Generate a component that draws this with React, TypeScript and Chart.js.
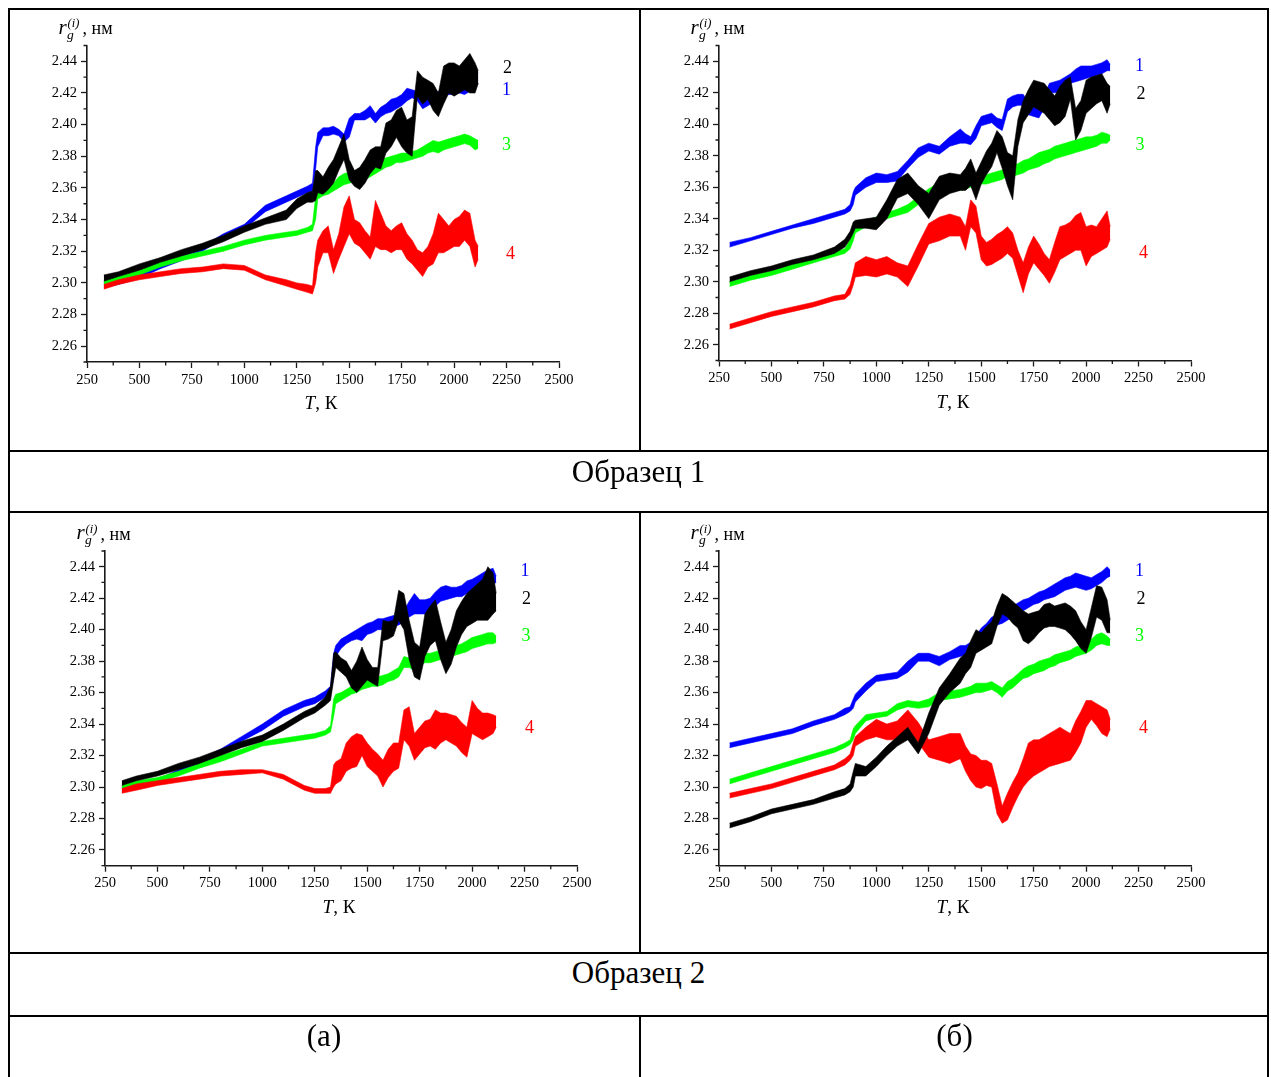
import React, { useEffect, useRef } from "react";
import { Chart, registerables } from "chart.js";

Chart.register(...registerables);

const SERIF = "'Liberation Serif', 'Times New Roman', serif";

// ---------- data: temperature grids (K) ----------
const T_A = [330, 400, 500, 600, 700, 800, 900, 1000, 1100, 1200, 1250, 1300, 1325, 1340, 1350, 1375, 1400, 1425, 1450, 1475, 1500, 1525, 1550, 1575, 1600, 1625, 1650, 1675, 1700, 1725, 1750, 1775, 1800, 1825, 1850, 1875, 1900, 1925, 1950, 1975, 2000, 2025, 2050, 2075, 2100, 2115];
const T_B = [300, 400, 500, 600, 700, 800, 850, 875, 890, 900, 950, 1000, 1050, 1100, 1150, 1200, 1250, 1300, 1350, 1400, 1425, 1450, 1475, 1500, 1525, 1550, 1575, 1600, 1625, 1650, 1675, 1700, 1725, 1750, 1775, 1800, 1825, 1850, 1875, 1900, 1925, 1950, 1975, 2000, 2025, 2050, 2075, 2100, 2115];

// ---------- data: r_g (nm), [low, high] envelope of each noisy curve ----------
// Sample 1 (a)
const S1a_1 = [[2.297,2.300],[2.299,2.302],[2.303,2.306],[2.309,2.312],[2.314,2.317],[2.320,2.323],[2.328,2.331],[2.334,2.337],[2.345,2.349],[2.351,2.355],[2.354,2.358],[2.357,2.361],[2.358,2.363],[2.372,2.386],[2.386,2.395],[2.393,2.398],[2.393,2.398],[2.394,2.399],[2.393,2.397],[2.389,2.394],[2.392,2.404],[2.403,2.407],[2.403,2.407],[2.403,2.409],[2.405,2.412],[2.401,2.407],[2.405,2.411],[2.407,2.413],[2.408,2.416],[2.410,2.417],[2.412,2.419],[2.415,2.423],[2.417,2.422],[2.415,2.421],[2.410,2.415],[2.412,2.418],[2.414,2.420],[2.415,2.421],[2.418,2.424],[2.419,2.425],[2.419,2.425],[2.420,2.424],[2.419,2.423],[2.421,2.428],[2.424,2.434],[2.426,2.433]];
const S1a_2 = [[2.301,2.305],[2.304,2.307],[2.308,2.312],[2.313,2.316],[2.317,2.321],[2.321,2.325],[2.326,2.330],[2.332,2.336],[2.337,2.341],[2.340,2.346],[2.347,2.353],[2.351,2.357],[2.351,2.358],[2.352,2.371],[2.357,2.371],[2.356,2.367],[2.359,2.373],[2.363,2.378],[2.371,2.386],[2.378,2.394],[2.365,2.378],[2.361,2.371],[2.359,2.373],[2.363,2.378],[2.369,2.384],[2.373,2.386],[2.372,2.386],[2.382,2.401],[2.386,2.403],[2.392,2.409],[2.386,2.411],[2.382,2.403],[2.380,2.405],[2.418,2.434],[2.413,2.430],[2.416,2.428],[2.409,2.426],[2.405,2.420],[2.413,2.437],[2.420,2.439],[2.418,2.439],[2.420,2.437],[2.422,2.441],[2.420,2.445],[2.420,2.439],[2.426,2.434]];
const S1a_3 = [[2.298,2.301],[2.301,2.304],[2.305,2.308],[2.310,2.313],[2.314,2.317],[2.317,2.320],[2.320,2.323],[2.324,2.327],[2.327,2.330],[2.329,2.332],[2.330,2.333],[2.332,2.335],[2.333,2.337],[2.340,2.355],[2.353,2.359],[2.355,2.360],[2.356,2.361],[2.358,2.363],[2.360,2.367],[2.362,2.369],[2.363,2.370],[2.364,2.371],[2.365,2.371],[2.365,2.371],[2.367,2.373],[2.369,2.377],[2.371,2.378],[2.373,2.379],[2.374,2.380],[2.376,2.381],[2.376,2.382],[2.377,2.382],[2.378,2.383],[2.379,2.384],[2.380,2.386],[2.382,2.388],[2.383,2.390],[2.382,2.389],[2.384,2.390],[2.385,2.391],[2.386,2.392],[2.387,2.393],[2.388,2.394],[2.387,2.393],[2.384,2.391],[2.385,2.390]];
const S1a_4 = [[2.296,2.299],[2.299,2.302],[2.302,2.305],[2.304,2.307],[2.306,2.309],[2.307,2.310],[2.309,2.312],[2.308,2.311],[2.302,2.305],[2.298,2.302],[2.296,2.300],[2.294,2.299],[2.293,2.298],[2.300,2.319],[2.310,2.327],[2.319,2.333],[2.319,2.336],[2.306,2.321],[2.315,2.331],[2.323,2.348],[2.331,2.355],[2.325,2.340],[2.323,2.338],[2.319,2.333],[2.315,2.329],[2.323,2.352],[2.321,2.344],[2.321,2.336],[2.319,2.333],[2.321,2.336],[2.321,2.338],[2.315,2.331],[2.312,2.327],[2.308,2.321],[2.304,2.319],[2.310,2.323],[2.312,2.331],[2.319,2.344],[2.319,2.340],[2.321,2.336],[2.323,2.340],[2.323,2.342],[2.327,2.346],[2.323,2.344],[2.310,2.327],[2.315,2.323]];
// Sample 1 (b)
const S1b_1 = [[2.322,2.325],[2.326,2.328],[2.330,2.332],[2.334,2.336],[2.337,2.340],[2.341,2.344],[2.343,2.346],[2.345,2.349],[2.349,2.357],[2.355,2.360],[2.360,2.366],[2.363,2.369],[2.363,2.368],[2.364,2.370],[2.372,2.377],[2.379,2.385],[2.383,2.388],[2.381,2.386],[2.386,2.392],[2.388,2.397],[2.388,2.394],[2.387,2.392],[2.391,2.399],[2.399,2.405],[2.400,2.406],[2.401,2.407],[2.398,2.404],[2.396,2.403],[2.408,2.416],[2.411,2.418],[2.412,2.419],[2.412,2.419],[2.406,2.414],[2.405,2.412],[2.404,2.411],[2.410,2.418],[2.420,2.426],[2.420,2.427],[2.421,2.428],[2.424,2.430],[2.426,2.432],[2.427,2.435],[2.428,2.437],[2.429,2.437],[2.430,2.437],[2.431,2.438],[2.432,2.439],[2.434,2.441],[2.434,2.438]];
const S1b_2 = [[2.300,2.303],[2.304,2.307],[2.307,2.310],[2.311,2.314],[2.314,2.317],[2.318,2.322],[2.322,2.327],[2.327,2.332],[2.331,2.338],[2.334,2.339],[2.334,2.340],[2.333,2.341],[2.340,2.352],[2.353,2.365],[2.356,2.369],[2.349,2.361],[2.340,2.356],[2.352,2.367],[2.356,2.369],[2.358,2.368],[2.358,2.372],[2.361,2.378],[2.352,2.369],[2.362,2.376],[2.368,2.383],[2.373,2.388],[2.382,2.396],[2.372,2.392],[2.361,2.382],[2.352,2.380],[2.386,2.403],[2.401,2.415],[2.406,2.422],[2.411,2.428],[2.409,2.427],[2.407,2.426],[2.403,2.422],[2.399,2.418],[2.401,2.424],[2.405,2.428],[2.416,2.430],[2.390,2.410],[2.396,2.415],[2.407,2.428],[2.410,2.430],[2.413,2.431],[2.415,2.432],[2.407,2.426],[2.413,2.424]];
const S1b_3 = [[2.297,2.300],[2.301,2.304],[2.304,2.307],[2.308,2.311],[2.312,2.315],[2.316,2.319],[2.318,2.321],[2.321,2.327],[2.326,2.333],[2.331,2.336],[2.335,2.339],[2.337,2.341],[2.340,2.344],[2.342,2.346],[2.344,2.349],[2.349,2.354],[2.354,2.359],[2.357,2.363],[2.358,2.364],[2.358,2.364],[2.359,2.365],[2.360,2.366],[2.361,2.367],[2.362,2.368],[2.362,2.368],[2.363,2.369],[2.364,2.370],[2.365,2.371],[2.367,2.373],[2.367,2.374],[2.368,2.375],[2.369,2.377],[2.371,2.378],[2.372,2.380],[2.373,2.382],[2.375,2.383],[2.376,2.384],[2.378,2.386],[2.379,2.387],[2.380,2.388],[2.381,2.389],[2.382,2.390],[2.383,2.391],[2.384,2.392],[2.385,2.392],[2.386,2.393],[2.388,2.395],[2.388,2.394],[2.390,2.393]];
const S1b_4 = [[2.270,2.273],[2.274,2.277],[2.278,2.281],[2.281,2.284],[2.284,2.287],[2.288,2.291],[2.289,2.292],[2.292,2.298],[2.298,2.306],[2.303,2.312],[2.304,2.316],[2.303,2.314],[2.305,2.316],[2.303,2.312],[2.297,2.310],[2.310,2.324],[2.324,2.337],[2.326,2.341],[2.329,2.343],[2.329,2.341],[2.320,2.335],[2.335,2.352],[2.331,2.348],[2.314,2.329],[2.310,2.325],[2.311,2.327],[2.313,2.330],[2.315,2.332],[2.318,2.335],[2.315,2.331],[2.304,2.320],[2.293,2.312],[2.305,2.322],[2.312,2.329],[2.308,2.324],[2.304,2.318],[2.299,2.314],[2.306,2.325],[2.314,2.335],[2.316,2.336],[2.318,2.338],[2.320,2.342],[2.320,2.344],[2.310,2.335],[2.316,2.336],[2.318,2.335],[2.320,2.340],[2.322,2.345],[2.327,2.335]];
// Sample 2 (a)
const S2a_1 = [[2.297,2.300],[2.299,2.302],[2.302,2.305],[2.308,2.311],[2.314,2.317],[2.321,2.324],[2.329,2.332],[2.336,2.340],[2.345,2.349],[2.351,2.355],[2.353,2.357],[2.357,2.361],[2.359,2.364],[2.370,2.385],[2.383,2.390],[2.388,2.394],[2.391,2.396],[2.393,2.398],[2.394,2.400],[2.393,2.402],[2.397,2.404],[2.398,2.405],[2.400,2.407],[2.400,2.407],[2.401,2.408],[2.402,2.409],[2.403,2.410],[2.405,2.412],[2.408,2.418],[2.410,2.423],[2.410,2.419],[2.410,2.419],[2.412,2.420],[2.415,2.424],[2.418,2.427],[2.419,2.428],[2.420,2.427],[2.421,2.427],[2.421,2.428],[2.423,2.431],[2.424,2.432],[2.426,2.434],[2.427,2.436],[2.428,2.438],[2.429,2.439],[2.430,2.434]];
const S2a_2 = [[2.301,2.304],[2.304,2.307],[2.307,2.310],[2.311,2.315],[2.315,2.319],[2.320,2.324],[2.325,2.329],[2.329,2.333],[2.336,2.340],[2.344,2.348],[2.347,2.351],[2.352,2.357],[2.355,2.364],[2.368,2.385],[2.376,2.386],[2.373,2.382],[2.370,2.380],[2.363,2.374],[2.360,2.380],[2.364,2.389],[2.368,2.381],[2.366,2.376],[2.364,2.376],[2.393,2.406],[2.394,2.405],[2.396,2.406],[2.406,2.425],[2.400,2.423],[2.381,2.406],[2.370,2.392],[2.368,2.389],[2.383,2.410],[2.390,2.415],[2.393,2.419],[2.381,2.405],[2.372,2.392],[2.378,2.400],[2.389,2.412],[2.397,2.418],[2.402,2.423],[2.404,2.426],[2.406,2.429],[2.406,2.432],[2.406,2.440],[2.410,2.436],[2.412,2.423]];
const S2a_3 = [[2.298,2.301],[2.301,2.304],[2.303,2.306],[2.307,2.310],[2.312,2.315],[2.316,2.320],[2.321,2.324],[2.326,2.329],[2.328,2.331],[2.330,2.333],[2.331,2.334],[2.333,2.336],[2.335,2.339],[2.345,2.356],[2.353,2.359],[2.355,2.360],[2.357,2.362],[2.359,2.364],[2.360,2.365],[2.362,2.368],[2.363,2.369],[2.364,2.369],[2.364,2.370],[2.365,2.371],[2.367,2.372],[2.368,2.374],[2.370,2.376],[2.376,2.383],[2.376,2.382],[2.374,2.381],[2.377,2.383],[2.379,2.385],[2.379,2.385],[2.380,2.386],[2.381,2.387],[2.382,2.388],[2.383,2.389],[2.384,2.390],[2.385,2.391],[2.386,2.393],[2.388,2.395],[2.389,2.396],[2.390,2.397],[2.391,2.398],[2.391,2.398],[2.392,2.396]];
const S2a_4 = [[2.296,2.299],[2.298,2.302],[2.301,2.304],[2.303,2.306],[2.305,2.308],[2.307,2.310],[2.308,2.311],[2.309,2.311],[2.305,2.308],[2.298,2.301],[2.296,2.299],[2.296,2.299],[2.296,2.300],[2.300,2.314],[2.302,2.316],[2.304,2.318],[2.310,2.328],[2.312,2.332],[2.313,2.334],[2.320,2.333],[2.313,2.328],[2.310,2.324],[2.307,2.321],[2.300,2.317],[2.306,2.324],[2.310,2.328],[2.312,2.328],[2.330,2.349],[2.326,2.351],[2.317,2.334],[2.321,2.338],[2.325,2.342],[2.326,2.343],[2.324,2.349],[2.328,2.347],[2.330,2.347],[2.328,2.346],[2.326,2.345],[2.322,2.341],[2.319,2.338],[2.334,2.355],[2.332,2.350],[2.330,2.347],[2.332,2.347],[2.334,2.346],[2.338,2.345]];
// Sample 2 (b)
const S2b_1 = [[2.325,2.328],[2.328,2.331],[2.331,2.334],[2.334,2.337],[2.339,2.342],[2.343,2.346],[2.346,2.350],[2.348,2.351],[2.350,2.356],[2.354,2.359],[2.361,2.366],[2.367,2.371],[2.368,2.372],[2.369,2.373],[2.373,2.380],[2.380,2.385],[2.380,2.385],[2.377,2.383],[2.381,2.386],[2.383,2.390],[2.384,2.390],[2.386,2.392],[2.389,2.396],[2.395,2.401],[2.398,2.404],[2.402,2.408],[2.403,2.409],[2.404,2.410],[2.406,2.412],[2.408,2.415],[2.410,2.417],[2.412,2.419],[2.414,2.420],[2.416,2.422],[2.417,2.424],[2.419,2.425],[2.420,2.427],[2.421,2.429],[2.423,2.431],[2.425,2.433],[2.426,2.434],[2.427,2.436],[2.426,2.435],[2.425,2.434],[2.426,2.433],[2.428,2.435],[2.430,2.437],[2.433,2.440],[2.434,2.438]];
const S2b_2 = [[2.274,2.277],[2.278,2.281],[2.283,2.286],[2.286,2.289],[2.289,2.292],[2.293,2.297],[2.295,2.299],[2.297,2.302],[2.300,2.310],[2.307,2.315],[2.307,2.313],[2.313,2.319],[2.320,2.326],[2.326,2.332],[2.330,2.338],[2.321,2.328],[2.334,2.347],[2.352,2.363],[2.360,2.372],[2.366,2.382],[2.372,2.385],[2.376,2.393],[2.385,2.400],[2.387,2.398],[2.389,2.402],[2.391,2.405],[2.402,2.415],[2.410,2.423],[2.408,2.421],[2.404,2.418],[2.401,2.415],[2.393,2.412],[2.391,2.410],[2.394,2.411],[2.398,2.412],[2.401,2.416],[2.402,2.417],[2.402,2.415],[2.401,2.416],[2.400,2.417],[2.397,2.415],[2.393,2.412],[2.388,2.405],[2.385,2.400],[2.395,2.414],[2.408,2.428],[2.406,2.427],[2.398,2.419],[2.398,2.406]];
const S2b_3 = [[2.302,2.305],[2.306,2.309],[2.310,2.313],[2.314,2.317],[2.318,2.321],[2.322,2.325],[2.325,2.328],[2.327,2.330],[2.330,2.337],[2.334,2.339],[2.342,2.346],[2.344,2.347],[2.345,2.348],[2.349,2.353],[2.351,2.355],[2.350,2.354],[2.351,2.356],[2.355,2.360],[2.356,2.361],[2.357,2.362],[2.358,2.363],[2.359,2.364],[2.360,2.366],[2.360,2.366],[2.361,2.366],[2.362,2.367],[2.360,2.365],[2.357,2.363],[2.361,2.367],[2.363,2.369],[2.366,2.372],[2.369,2.375],[2.370,2.377],[2.372,2.378],[2.373,2.380],[2.374,2.381],[2.376,2.382],[2.377,2.384],[2.379,2.385],[2.380,2.386],[2.381,2.387],[2.383,2.389],[2.384,2.390],[2.385,2.391],[2.387,2.394],[2.390,2.397],[2.391,2.398],[2.390,2.396],[2.390,2.394]];
const S2b_4 = [[2.293,2.296],[2.296,2.299],[2.299,2.302],[2.303,2.306],[2.307,2.310],[2.311,2.314],[2.314,2.318],[2.317,2.321],[2.320,2.328],[2.326,2.332],[2.330,2.338],[2.332,2.343],[2.330,2.340],[2.330,2.342],[2.338,2.349],[2.328,2.341],[2.319,2.330],[2.317,2.332],[2.315,2.334],[2.318,2.334],[2.310,2.326],[2.304,2.321],[2.300,2.320],[2.299,2.317],[2.301,2.317],[2.300,2.315],[2.283,2.302],[2.277,2.288],[2.279,2.296],[2.287,2.303],[2.294,2.309],[2.300,2.318],[2.304,2.328],[2.307,2.330],[2.309,2.330],[2.311,2.332],[2.313,2.334],[2.314,2.336],[2.315,2.338],[2.316,2.336],[2.317,2.334],[2.322,2.342],[2.328,2.348],[2.338,2.355],[2.343,2.355],[2.339,2.353],[2.334,2.351],[2.332,2.349],[2.337,2.343]];

// ---------- axes ----------
const X_TICKS = [250, 500, 750, 1000, 1250, 1500, 1750, 2000, 2250, 2500];
const X_MINOR = [375, 625, 875, 1125, 1375, 1625, 1875, 2125, 2375];
const Y_TICKS = [2.26, 2.28, 2.30, 2.32, 2.34, 2.36, 2.38, 2.40, 2.42, 2.44];
const Y_MINOR = [2.25, 2.27, 2.29, 2.31, 2.33, 2.35, 2.37, 2.39, 2.41, 2.43, 2.45];
const X_RANGE = [250, 2500];
const Y_RANGE = [2.25, 2.45];
const SERIES_COLORS = ["#0000ff", "#000000", "#00ff00", "#ff0000"]; // curves 1..4
const SERIES_NAMES = ["1", "2", "3", "4"];
const SECTION_TITLES = ["Образец 1", "Образец 2"];
const COLUMN_TITLES = ["(а)", "(б)"];

const AXIS = "#1a1a1a";

const minorTicks = {
  id: "minorTicks",
  afterDraw(chart: any) {
    const { ctx, chartArea, scales } = chart;
    const x = scales.x;
    const y = scales.y;
    ctx.save();
    ctx.strokeStyle = AXIS;
    ctx.lineWidth = 1.3;
    ctx.beginPath();
    for (const v of X_MINOR) {
      const px = x.getPixelForValue(v);
      ctx.moveTo(px, chartArea.bottom);
      ctx.lineTo(px, chartArea.bottom + 3.5);
    }
    for (const v of Y_MINOR) {
      const py = y.getPixelForValue(v);
      ctx.moveTo(chartArea.left, py);
      ctx.lineTo(chartArea.left - 3.5, py);
    }
    ctx.stroke();
    ctx.restore();
  },
};

type Box = { x: number; y: number; w: number; h: number };
type Area = { l: number; r: number; t: number; b: number };

function Panel({ t, series, box, area }: { t: number[]; series: number[][][]; box: Box; area: Area }) {
  const ref = useRef<HTMLCanvasElement | null>(null);
  useEffect(() => {
    const aL = area.l - box.x;
    const aR = area.r - box.x;
    const aT = area.t - box.y;
    const aB = area.b - box.y;
    const datasets: any[] = [];
    // black (2) on top, then red (4), green (3), blue (1) underneath
    [1, 3, 2, 0].forEach((si) => {
      const s = series[si];
      const c = SERIES_COLORS[si];
      const n = Math.min(t.length, s.length);
      const lo = [] as any[];
      const hi = [] as any[];
      for (let i = 0; i < n; i++) {
        lo.push({ x: t[i], y: s[i][0] });
        hi.push({ x: t[i], y: s[i][1] });
      }
      datasets.push({ label: SERIES_NAMES[si] + "lo", data: lo, borderColor: c, borderWidth: 0.6, pointRadius: 0, fill: false, tension: 0 });
      datasets.push({ label: SERIES_NAMES[si], data: hi, borderColor: c, backgroundColor: c, borderWidth: 0.6, pointRadius: 0, fill: "-1", tension: 0 });
    });
    const tickFont = { family: SERIF, size: 14.5 };
    const chart = new Chart(ref.current as HTMLCanvasElement, {
      type: "line",
      data: { datasets },
      plugins: [minorTicks],
      options: {
        animation: false,
        responsive: false,
        events: [],
        layout: { padding: { left: 0, top: aT, right: box.w - aR, bottom: 0 } },
        plugins: { legend: { display: false }, tooltip: { enabled: false }, title: { display: false } },
        scales: {
          x: {
            type: "linear",
            min: X_RANGE[0],
            max: X_RANGE[1],
            afterBuildTicks: (s: any) => {
              s.ticks = X_TICKS.map((v) => ({ value: v }));
            },
            afterFit: (s: any) => {
              s.height = box.h - aB;
            },
            grid: { display: true, drawOnChartArea: false, drawTicks: true, tickLength: 6, tickWidth: 1.3, tickColor: AXIS },
            border: { display: true, color: AXIS, width: 1.6 },
            ticks: { font: tickFont, color: "#000", padding: 3, maxRotation: 0, autoSkip: false, callback: (v: any) => String(v) },
          },
          y: {
            type: "linear",
            min: Y_RANGE[0],
            max: Y_RANGE[1],
            afterBuildTicks: (s: any) => {
              s.ticks = Y_TICKS.map((v) => ({ value: v }));
            },
            afterFit: (s: any) => {
              s.width = aL;
            },
            grid: { display: true, drawOnChartArea: false, drawTicks: true, tickLength: 6, tickWidth: 1.3, tickColor: AXIS },
            border: { display: true, color: AXIS, width: 1.6 },
            ticks: { font: tickFont, color: "#000", padding: 4, autoSkip: false, callback: (v: any) => Number(v).toFixed(2) },
          },
        },
      } as any,
    });
    return () => chart.destroy();
  }, []);
  return (
    <canvas
      ref={ref}
      width={box.w}
      height={box.h}
      style={{ position: "absolute", left: box.x, top: box.y, width: box.w, height: box.h }}
    />
  );
}

// text helper: x = left (or centre if center), base = baseline (page coordinates)
function Txt({ x, base, size, italic, center, color, children }: any) {
  return (
    <span
      style={{
        position: "absolute",
        left: x,
        top: base - 0.8375 * size,
        fontSize: size,
        lineHeight: `${size}px`,
        fontFamily: SERIF,
        fontStyle: italic ? "italic" : "normal",
        color: color || "#000",
        whiteSpace: "nowrap",
        transform: center ? "translateX(-50%)" : undefined,
      }}
    >
      {children}
    </span>
  );
}

function AxisTitles({ area }: { area: Area }) {
  const L = area.l;
  const T = area.t;
  const cx = (area.l + area.r) / 2 - 2;
  return (
    <>
      <Txt x={L - 28.5} base={T - 11} size={21} italic>r</Txt>
      <Txt x={L - 19.5} base={T - 18} size={12.5} italic>(i)</Txt>
      <Txt x={L - 20} base={T - 6.5} size={13.5} italic>g</Txt>
      <Txt x={L - 4.5} base={T - 11} size={18}>, нм</Txt>
      <Txt x={cx} base={area.b + 47} size={19} center>
        <i>T</i>, К
      </Txt>
    </>
  );
}

function Labels({ pos }: { pos: number[][] }) {
  return (
    <>
      {pos.map((p, i) => (
        <Txt key={i} x={p[0]} base={p[1] + 6} size={18} center color={SERIES_COLORS[i]}>
          {SERIES_NAMES[i]}
        </Txt>
      ))}
    </>
  );
}

function HLine({ x1, x2, y }: any) {
  return <div style={{ position: "absolute", left: x1, top: y, width: x2 - x1, height: 2, background: "#000" }} />;
}
function VLine({ x, y1, y2 }: any) {
  return <div style={{ position: "absolute", left: x, top: y1, width: 2, height: y2 - y1, background: "#000" }} />;
}

const PANELS = [
  { t: T_A, series: [S1a_1, S1a_2, S1a_3, S1a_4], box: { x: 10, y: 10, w: 629, h: 440 }, area: { l: 87, r: 559, t: 45.5, b: 362 }, labels: [[506.5, 89], [507.5, 67.5], [506.5, 144.5], [510.5, 253]] },
  { t: T_B, series: [S1b_1, S1b_2, S1b_3, S1b_4], box: { x: 641, y: 10, w: 626, h: 440 }, area: { l: 719, r: 1191, t: 45.5, b: 360.5 }, labels: [[1139.5, 65], [1141, 93], [1140, 144.5], [1143.5, 252.5]] },
  { t: T_A, series: [S2a_1, S2a_2, S2a_3, S2a_4], box: { x: 10, y: 513, w: 629, h: 439 }, area: { l: 105, r: 577, t: 551, b: 865.7 }, labels: [[525, 570], [526.5, 598.5], [526, 635], [529.5, 727]] },
  { t: T_B, series: [S2b_1, S2b_2, S2b_3, S2b_4], box: { x: 641, y: 513, w: 626, h: 439 }, area: { l: 719, r: 1191, t: 551, b: 865.7 }, labels: [[1139.5, 570], [1141, 598.5], [1139.5, 635], [1143.5, 727]] },
];

export default function App() {
  useEffect(() => {
    // page coordinates are used directly: no body margin, no scrollbars
    document.documentElement.style.overflow = "hidden";
    document.body.style.margin = "0";
  }, []);
  return (
    <div style={{ position: "relative", width: 1271, height: 1077, background: "#fff", fontFamily: SERIF, overflow: "hidden" }}>
      {PANELS.map((p, i) => (
        <React.Fragment key={i}>
          <Panel t={p.t} series={p.series} box={p.box} area={p.area} />
          <AxisTitles area={p.area} />
          <Labels pos={p.labels} />
        </React.Fragment>
      ))}
      <Txt x={638.5} base={482} size={31} center>{SECTION_TITLES[0]}</Txt>
      <Txt x={638.5} base={983} size={31} center>{SECTION_TITLES[1]}</Txt>
      <Txt x={324} base={1046} size={31} center>{COLUMN_TITLES[0]}</Txt>
      <Txt x={954.5} base={1046} size={31} center>{COLUMN_TITLES[1]}</Txt>
      <HLine x1={8} x2={1269} y={8} />
      <HLine x1={8} x2={1269} y={450} />
      <HLine x1={8} x2={1269} y={511} />
      <HLine x1={8} x2={1269} y={952} />
      <HLine x1={8} x2={1269} y={1015} />
      <VLine x={8} y1={8} y2={1077} />
      <VLine x={1267} y1={8} y2={1077} />
      <VLine x={639} y1={8} y2={452} />
      <VLine x={639} y1={511} y2={954} />
      <VLine x={639} y1={1015} y2={1077} />
    </div>
  );
}
